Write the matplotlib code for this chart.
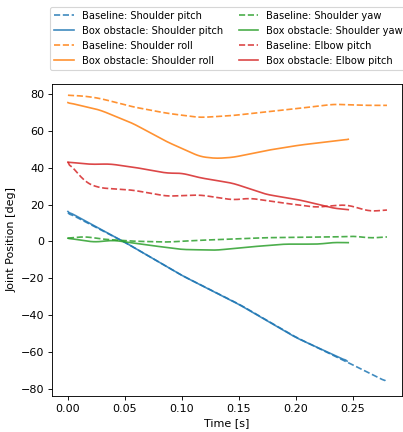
import numpy as np
import matplotlib
matplotlib.use("Agg")
import matplotlib.pyplot as plt

# --- data (t in s, joint angles in deg) ---
t_base_sp = [0.0, 0.05, 0.10, 0.15, 0.20, 0.245, 0.28]
base_sp = [15.5, -0.5, -18.5, -34.0, -52.0, -65.5, -76.3]
t_box_sp = [0.0, 0.05, 0.10, 0.15, 0.20, 0.245]
box_sp = [16.2, -0.5, -18.5, -34.2, -52.2, -65.0]

t_base_sr = [0.0, 0.015, 0.028, 0.057, 0.087, 0.116, 0.145, 0.174, 0.203, 0.233, 0.262, 0.28]
base_sr = [79.3, 78.8, 77.6, 73.0, 69.5, 67.2, 68.3, 70.3, 72.2, 74.4, 73.8, 73.8]
t_box_sr = [0.0, 0.028, 0.057, 0.087, 0.116, 0.13, 0.145, 0.174, 0.203, 0.246]
box_sr = [75.3, 71.3, 64.0, 54.0, 46.0, 45.0, 45.6, 49.3, 52.2, 55.4]

t_base_sy = [0.0, 0.015, 0.03, 0.057, 0.087, 0.116, 0.145, 0.174, 0.203, 0.233, 0.252, 0.265, 0.28]
base_sy = [1.7, 2.6, 1.2, 0.1, -0.4, 0.6, 1.2, 2.0, 2.2, 2.4, 2.8, 1.8, 2.4]
t_box_sy = [0.0, 0.023, 0.04, 0.07, 0.10, 0.116, 0.13, 0.16, 0.19, 0.22, 0.233, 0.246]
box_sy = [1.7, -0.4, 0.6, -2.0, -4.4, -4.6, -4.8, -3.0, -1.5, -1.5, -0.6, -0.7]

t_base_ep = [0.0, 0.016, 0.028, 0.057, 0.087, 0.116, 0.145, 0.16, 0.189, 0.218, 0.235, 0.245, 0.265, 0.28]
base_ep = [43.0, 31.7, 29.0, 27.8, 24.5, 25.2, 22.5, 23.4, 20.8, 18.5, 19.5, 19.8, 16.3, 17.0]
t_box_ep = [0.0, 0.02, 0.037, 0.06, 0.087, 0.10, 0.116, 0.145, 0.174, 0.203, 0.22, 0.233, 0.246]
box_ep = [43.0, 41.8, 42.0, 40.0, 37.0, 37.0, 34.5, 31.5, 25.5, 22.5, 20.0, 18.0, 17.2]

series = [
    ("Baseline: Shoulder pitch", t_base_sp, base_sp, "C0", "--"),
    ("Box obstacle: Shoulder pitch", t_box_sp, box_sp, "C0", "-"),
    ("Baseline: Shoulder roll", t_base_sr, base_sr, "C1", "--"),
    ("Box obstacle: Shoulder roll", t_box_sr, box_sr, "C1", "-"),
    ("Baseline: Shoulder yaw", t_base_sy, base_sy, "C2", "--"),
    ("Box obstacle: Shoulder yaw", t_box_sy, box_sy, "C2", "-"),
    ("Baseline: Elbow pitch", t_base_ep, base_ep, "C3", "--"),
    ("Box obstacle: Elbow pitch", t_box_ep, box_ep, "C3", "-"),
]


def smooth(t, y, n=200):
    # light smoothing of the hand-read points so curves look continuous
    tt = np.linspace(t[0], t[-1], n)
    yy = np.interp(tt, t, y)
    k = 9
    pad = np.pad(yy, k // 2, mode="edge")
    ys = np.convolve(pad, np.ones(k) / k, mode="valid")
    ys[0], ys[-1] = y[0], y[-1]
    return tt, ys


fig = plt.figure(figsize=(403 / 80, 432 / 80), dpi=80)
ax = fig.add_axes([0.129, 0.083, 0.868, 0.723])

for label, t, y, c, ls in series:
    tt, yy = smooth(t, y)
    ax.plot(tt, yy, color=c, linestyle=ls, label=label, alpha=0.85)

ax.set_xlim(-0.014, 0.293)
ax.set_ylim(-84, 85.5)
ax.set_xticks([0.0, 0.05, 0.10, 0.15, 0.20, 0.25])
ax.set_xlabel("Time [s]")
ax.set_ylabel("Joint Position [deg]")

handles, labels = ax.get_legend_handles_labels()
fig.legend(handles, labels, ncol=2, loc="upper left", fontsize=8.9,
           columnspacing=1.6, borderaxespad=0.0,
           bbox_to_anchor=(0.124, 0.984), bbox_transform=fig.transFigure)

fig.savefig("out.png", dpi=80)
